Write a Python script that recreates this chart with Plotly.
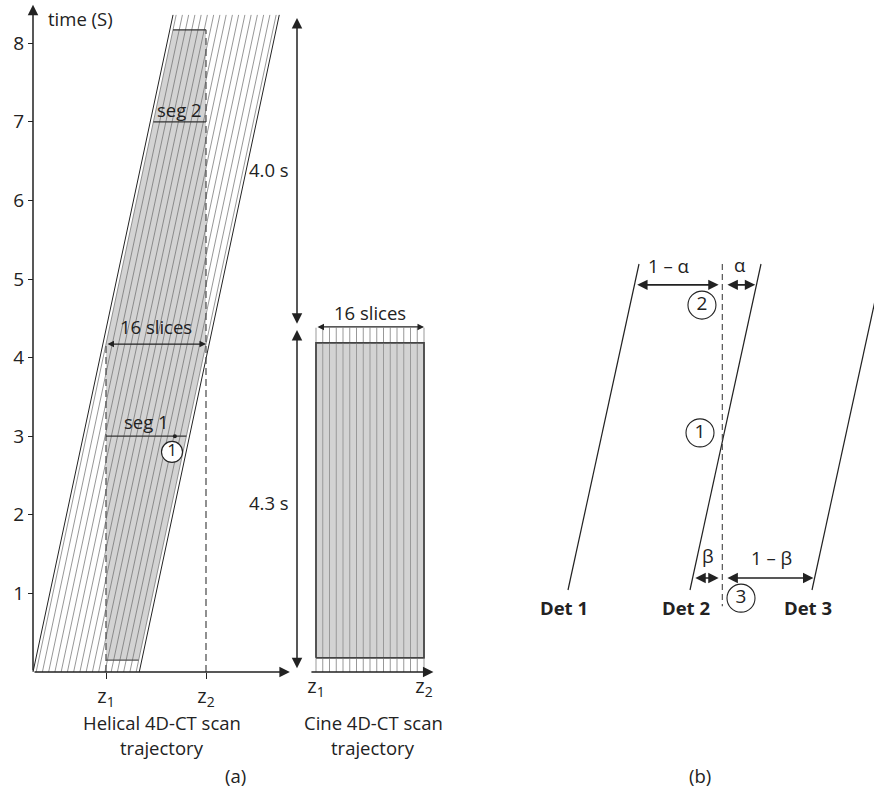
import plotly.graph_objects as go

# ---------------- data ----------------
time_ticks = [1, 2, 3, 4, 5, 6, 7, 8]            # seconds
z1, z2 = 11.68, 27.68                              # helical z positions (slice units)
table_speed = 2.68                                 # slices per second (helical)
band_outer = [0.0, 17.0]                           # outer detector edges
band_rows = [0.5, 1.5, 2.5, 3.5, 4.5, 5.5, 6.5, 7.5, 8.5,
             9.5, 10.5, 11.5, 12.5, 13.5, 14.5, 15.5, 16.5]
band_t_end = 8.36
gray_t = [0.15, 8.17]                              # reconstructed helical window
seg_times = [3.0, 7.0]
seg_labels = ["seg 1", "seg 2"]
dur_labels = ["4.0 s", "4.3 s"]
dur_spans = [[4.41, 8.32], [0.03, 4.35]]
cine_slices = [0, 1, 2, 3, 4, 5, 6, 7, 8, 9, 10, 11, 12, 13, 14, 15, 16]
cine_t = [0.18, 4.19]
cine_line_top = 4.38

det_pos = [1, 2, 3]
det_labels = ["Det 1", "Det 2", "Det 3"]
det_lean = 0.582
alpha = 0.28
beta = 0.24
y_alpha, y_beta = 0.936, 0.037

# ---------------- helpers ----------------
FONT = "Open Sans"
INK = "#222222"
FS = 18.5
fig = go.Figure()


def line(xs, ys, xa="x", ya="y", color=INK, width=1.0, dash=None):
    fig.add_trace(go.Scatter(x=xs, y=ys, xaxis=xa, yaxis=ya, mode="lines",
                             line=dict(color=color, width=width, dash=dash),
                             hoverinfo="skip", showlegend=False))


def arrow(x0, y0, x1, y1, xr="x", yr="y", both=False, size=1.0, width=1.2):
    kw = dict(x=x1, y=y1, ax=x0, ay=y0, xref=xr, yref=yr, axref=xr, ayref=yr,
              text="", showarrow=True, arrowhead=2, arrowsize=size,
              arrowwidth=width, arrowcolor=INK, standoff=0)
    if both:
        kw.update(arrowside="end+start", startarrowhead=2, startarrowsize=size,
                  startstandoff=0)
    fig.add_annotation(**kw)


def text(x, y, s, xr="x", yr="y", size=FS, xanchor="center", bold=False):
    if bold:
        s = "<b>" + s + "</b>"
    fig.add_annotation(x=x, y=y, xref=xr, yref=yr, text=s, showarrow=False,
                       xanchor=xanchor, yanchor="middle",
                       font=dict(family=FONT, size=size, color=INK))


def circled(x, y, s, xa="x", ya="y", size=20, fs=14):
    fig.add_trace(go.Scatter(x=[x], y=[y], xaxis=xa, yaxis=ya, mode="markers+text",
                             marker=dict(symbol="circle", size=size, color="white",
                                         line=dict(color=INK, width=1.1)),
                             text=[s], textposition="middle center",
                             textfont=dict(family=FONT, size=fs, color=INK),
                             hoverinfo="skip", showlegend=False))


# ---------------- (a) helical ----------------
s = table_speed
ta, tb = gray_t
t_cross = (z1 - band_rows[0]) / s
gx = [z1, band_rows[-1] + s * ta, z2, z2, band_rows[0] + s * tb, z1, z1]
gy = [ta, ta, t_cross, tb, tb, t_cross, ta]
fig.add_trace(go.Scatter(x=gx, y=gy, mode="lines", fill="toself", fillcolor="#d3d3d3",
                         line=dict(width=0, color="#d3d3d3"), hoverinfo="skip",
                         showlegend=False))
for o in band_rows:
    line([o, o + s * band_t_end], [0, band_t_end], color="#6a6a6a", width=0.7)
for o in band_outer:
    line([o, o + s * band_t_end], [0, band_t_end], color=INK, width=1.0)
# gray window top/bottom edges
line([z1, band_rows[-1] + s * ta], [ta, ta], color="#555555", width=1.3)
line([band_rows[0] + s * tb, z2], [tb, tb], color="#333333", width=1.3)
# dashed z1/z2
line([z1, z1], [0, t_cross], color="#555555", width=1.3, dash="7px,4px")
line([z2, z2], [0, tb], color="#555555", width=1.3, dash="7px,4px")
# segments
line([z1, band_rows[-1] + s * seg_times[0]], [seg_times[0]] * 2, color="#333333", width=1.3)
line([band_rows[0] + s * seg_times[1], z2], [seg_times[1]] * 2, color="#333333", width=1.3)
text(18.2, seg_times[0] + 0.19, seg_labels[0])
text(23.5, seg_times[1] + 0.16, seg_labels[1])
fig.add_trace(go.Scatter(x=[22.7], y=[seg_times[0]], mode="markers",
                         marker=dict(size=4, color=INK), hoverinfo="skip", showlegend=False))
circled(22.24, 2.80, "1", size=21, fs=17)
# 16 slices
arrow(z1, t_cross, z2, t_cross, both=True, size=1.0, width=1.3)
text((z1 + z2) / 2, t_cross + 0.22, "16 slices")
# axes arrows
arrow(0, 0, 0, 8.49, size=1.4, width=1.5)
arrow(0, 0, 41.1, 0, size=1.4, width=1.5)
text(2.1, 8.32, "time (S)", xanchor="left")
# duration arrows
for (t0, t1), lab, ty in zip(dur_spans, dur_labels, [6.39, 2.16]):
    arrow(42.24, t0, 42.24, t1, both=True, size=1.4, width=1.5)
    text(37.8, ty, lab)

# ---------------- (a) cine ----------------
fig.add_trace(go.Scatter(x=[0, 16, 16, 0, 0], y=[cine_t[0], cine_t[0], cine_t[1], cine_t[1], cine_t[0]],
                         xaxis="x2", yaxis="y", mode="lines", fill="toself",
                         fillcolor="#d3d3d3", line=dict(color="#444444", width=1.5),
                         hoverinfo="skip", showlegend=False))
for c in cine_slices:
    line([c, c], [0, cine_line_top], xa="x2", color="#999999", width=1.0)
line([0, 16, 16, 0, 0], [cine_t[0], cine_t[0], cine_t[1], cine_t[1], cine_t[0]],
     xa="x2", color="#444444", width=1.5)
arrow(-0.9, 0, 17.4, 0, xr="x2", size=1.4, width=1.5)
arrow(cine_slices[0], cine_line_top + 0.01, cine_slices[-1], cine_line_top + 0.01,
      xr="x2", both=True, size=1.0, width=1.3)
text(8, 4.58, "16 slices", xr="x2")

# bottom captions (paper)
def P(px, py):
    return px / 874, 1 - py / 789

for (px, py), s_ in [((162, 722), "Helical 4D-CT scan"), ((162, 747), "trajectory"),
                     ((373, 722), "Cine 4D-CT scan"), ((373, 747), "trajectory"),
                     ((235, 775), "(a)"), ((700, 775), "(b)")]:
    xx, yy = P(px, py)
    text(xx, yy, s_, xr="paper", yr="paper")

# ---------------- (b) ----------------
x_dash = det_pos[1] + det_lean * y_alpha - alpha
for d, lab in zip(det_pos, det_labels):
    line([d, d + det_lean], [0, 1], xa="x3", ya="y3", color=INK, width=1.2)
    text(d - 0.035, -0.055, lab, xr="x3", yr="y3", bold=True)
line([x_dash, x_dash], [1.0, -0.05], xa="x3", ya="y3", color="#444444", width=1.1, dash="6px,4px")
g = 0.03
arrow(det_pos[0] + det_lean * y_alpha + 0.01, y_alpha, x_dash - g, y_alpha, xr="x3", yr="y3",
      both=True, size=1.3, width=1.6)
arrow(x_dash + g, y_alpha, det_pos[1] + det_lean * y_alpha - 0.01, y_alpha, xr="x3", yr="y3",
      both=True, size=1.3, width=1.6)
arrow(det_pos[1] + det_lean * y_beta + 0.01, y_beta, x_dash - g, y_beta, xr="x3", yr="y3",
      both=True, size=1.3, width=1.6)
arrow(x_dash + g, y_beta, det_pos[2] + det_lean * y_beta - 0.01, y_beta, xr="x3", yr="y3",
      both=True, size=1.3, width=1.6)
text(1.82, 0.994, "1 – α", xr="x3", yr="y3")
text(2.41, 1.0, "α", xr="x3", yr="y3")
text(2.148, 0.107, "β", xr="x3", yr="y3")
text(2.664, 0.101, "1 – β", xr="x3", yr="y3")
circled(2.098, 0.874, "2", xa="x3", ya="y3", size=28, fs=19)
circled(2.082, 0.482, "1", xa="x3", ya="y3", size=28, fs=19)
circled(2.418, -0.025, "3", xa="x3", ya="y3", size=28, fs=19)

# ---------------- layout ----------------
hid = dict(showgrid=False, zeroline=False, showline=False)
fig.update_layout(
    width=874, height=789, margin=dict(l=0, r=0, t=0, b=0),
    paper_bgcolor="white", plot_bgcolor="white", showlegend=False,
    font=dict(family=FONT, color=INK),
    xaxis=dict(domain=[0, 1], range=[-33 / 6.25, (874 - 33) / 6.25], anchor="free",
               position=1 - 672 / 789, tickvals=[z1, z2],
               ticktext=["z<sub>1</sub>", "z<sub>2</sub>"], ticks="outside", ticklen=6,
               tickcolor=INK, tickwidth=1.3, tickfont=dict(size=20, family=FONT),
               automargin=False, fixedrange=True, **hid),
    yaxis=dict(domain=[0, 1], range=[(672 - 789) / 78.6, 672 / 78.6], anchor="free",
               position=33 / 874, tickvals=time_ticks, ticks="outside", ticklen=5,
               tickcolor=INK, tickwidth=1.3, tickfont=dict(size=19, family=FONT),
               automargin=False, fixedrange=True, **hid),
    xaxis2=dict(overlaying="x", range=[-316 / 6.75, (874 - 316) / 6.75], anchor="free",
                position=1 - 672 / 789, tickvals=[0, 16],
                ticktext=["z<sub>1</sub>", "z<sub>2</sub>"], ticks="",
                tickfont=dict(size=20, family=FONT), automargin=False, fixedrange=True, **hid),
    xaxis3=dict(overlaying="x", range=[1 - 568 / 122, 1 + 306 / 122], anchor="y3",
                visible=False, fixedrange=True),
    yaxis3=dict(overlaying="y", range=[(590 - 789) / 326, 590 / 326], anchor="x3",
                visible=False, fixedrange=True),
)

fig.write_html("out.html", config={"displayModeBar": False},
               post_script="document.body.style.margin='0';document.body.style.overflow='hidden';")
